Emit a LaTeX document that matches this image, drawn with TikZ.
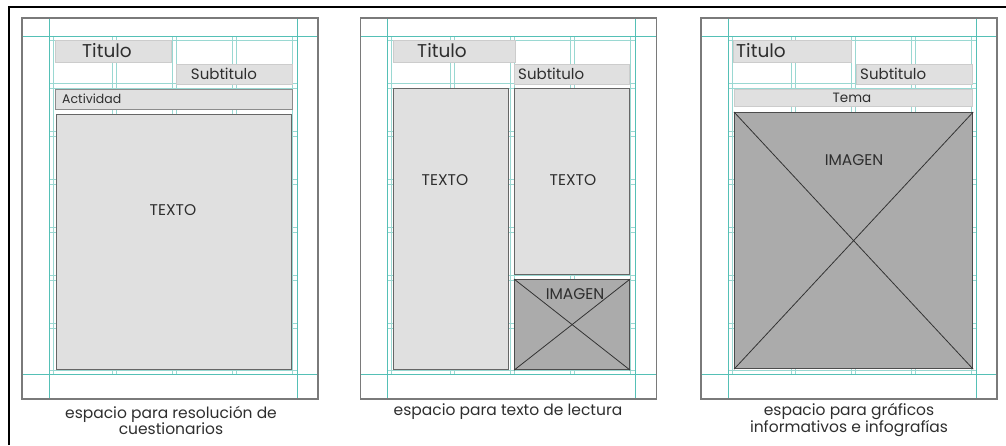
\documentclass[tikz,border=0pt]{standalone}
\usepackage{fontspec}
\setmainfont{Poppins}
\definecolor{guideA}{HTML}{55C0B6}
\definecolor{guideB}{HTML}{9AD8D2}
\definecolor{pagegray}{HTML}{7A7A7A}
\definecolor{boxfill}{HTML}{E0E0E0}
\definecolor{imgfill}{HTML}{ABABAB}
\definecolor{txt}{HTML}{2E2E2E}
\tikzset{
  pageframe/.style={draw=pagegray,line width=1.1pt},
  mainguide/.style={draw=guideA,line width=0.9pt},
  innerguide/.style={draw=guideB,line width=0.8pt},
  headbox/.style={fill=boxfill,draw=black!20,line width=1pt,inner sep=0pt,anchor=north west},
  barbox/.style={fill=boxfill,draw=black!45,line width=1.1pt,inner sep=0pt,anchor=north west},
  textbox/.style={fill=boxfill,draw=black!60,line width=1.2pt,inner sep=0pt,anchor=north west},
  imgbox/.style={fill=imgfill,draw=black!70,line width=1.2pt,inner sep=0pt,anchor=north west},
  cross/.style={draw=black!80,line width=0.8pt},
  lbl/.style={text=txt,inner sep=0pt},
  big/.style={lbl,font=\fontsize{18.5}{20}\selectfont},
  sub/.style={lbl,font=\fontsize{15}{17}\selectfont},
  mid/.style={lbl,font=\fontsize{15.5}{17}\selectfont},
  tema/.style={lbl,font=\fontsize{13.5}{15}\selectfont},
  small/.style={lbl,font=\fontsize{12.5}{14}\selectfont},
  caption/.style={lbl,font=\fontsize{15.5}{16}\selectfont,align=center},
}
\newcommand{\pagegrid}[1]{%
  \begin{scope}[xshift=#1]
    \draw[innerguide] (53,36) -- (53,374);
    \foreach \gx in {112,116,172,176,232,236,292} {\draw[innerguide] (\gx,36) -- (\gx,374);}
    \foreach \gy in {40,83,88,131,136,179,184,227,232,275,280,323,328,370} {\draw[innerguide] (49,\gy) -- (297,\gy);}
    \draw[mainguide] (22,36) -- (318,36);
    \draw[mainguide] (22,374) -- (318,374);
    \draw[mainguide] (49,18) -- (49,399);
    \draw[mainguide] (297,18) -- (297,399);
    \draw[pageframe] (22,18) rectangle (318,399);
  \end{scope}}
\begin{document}
\begin{tikzpicture}[x=1pt,y=-1pt]
\useasboundingbox (0,0) rectangle (1006,445);
\draw[line width=1.5pt] (9,445) -- (9,7) -- (1006,7);
\pagegrid{0pt}
\pagegrid{338.5pt}
\pagegrid{679pt}
% panel 1
\node[headbox,minimum width=116pt,minimum height=22pt] (p1t) at (55,40) {};
\node[headbox,minimum width=116pt,minimum height=20pt] (p1s) at (176,64) {};
\node[barbox,minimum width=237pt,minimum height=20pt] (p1a) at (55,89) {};
\node[textbox,minimum width=235pt,minimum height=255pt] (p1x) at (56,114) {};
\node[big] (p1tt) at (107,51) {Titulo};
\node[sub] (p1st) at (224,74) {Subtitulo};
\node[small,anchor=west] (p1at) at (62,99) {Actividad};
\node[mid] (p1xt) at (173,210) {TEXTO};
% panel 2
\node[headbox,minimum width=122pt,minimum height=22pt] (p2t) at (393,40) {};
\node[headbox,minimum width=115pt,minimum height=20pt] (p2s) at (514,64) {};
\node[textbox,minimum width=115pt,minimum height=281pt] (p2x1) at (393,88) {};
\node[textbox,minimum width=115pt,minimum height=186pt] (p2x2) at (514,88) {};
\node[imgbox,minimum width=115pt,minimum height=90pt] (p2i) at (514,279) {};
\draw[cross] (p2i.north west) -- (p2i.south east);
\draw[cross] (p2i.north east) -- (p2i.south west);
\node[big] (p2tt) at (442,51) {Titulo};
\node[sub,anchor=west] (p2st) at (518,74) {Subtitulo};
\node[mid] (p2x1t) at (445,180) {TEXTO};
\node[mid] (p2x2t) at (573,180) {TEXTO};
\node[mid] (p2it) at (575,294) {IMAGEN};
% panel 3
\node[headbox,minimum width=118pt,minimum height=22pt] (p3t) at (733,40) {};
\node[headbox,minimum width=116pt,minimum height=20pt] (p3s) at (856,64) {};
\node[headbox,minimum width=238pt,minimum height=17pt] (p3m) at (734,89) {};
\node[imgbox,minimum width=238pt,minimum height=256pt] (p3i) at (734,112) {};
\draw[cross] (p3i.north west) -- (p3i.south east);
\draw[cross] (p3i.north east) -- (p3i.south west);
\node[big,anchor=west] (p3tt) at (736,51) {Titulo};
\node[sub,anchor=west] (p3st) at (860,74) {Subtitulo};
\node[tema] (p3mt) at (852,98) {Tema};
\node[mid] (p3it) at (854,160) {IMAGEN};
% captions
\node[caption] (c1) at (171,420) {espacio para resolución de\\cuestionarios};
\node[caption] (c2) at (508,412) {espacio para texto de lectura};
\node[caption] (c3) at (849,420) {espacio para gráficos\\informativos e infografías};
\end{tikzpicture}
\end{document}
